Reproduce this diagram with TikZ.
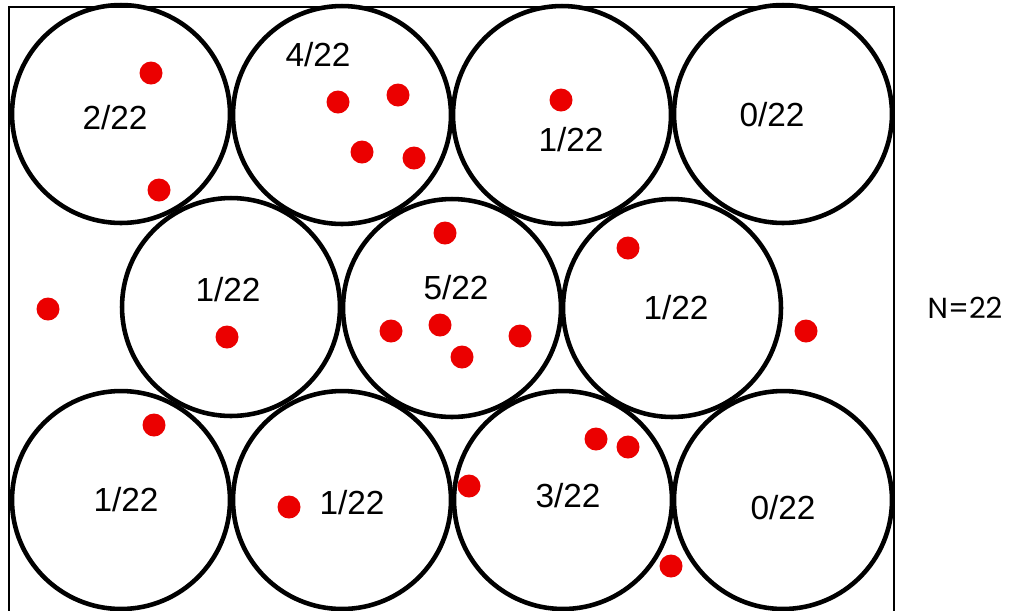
\documentclass[tikz,border=0pt]{standalone}
\usepackage{fontspec}
\setmainfont{Liberation Sans}
\newfontfamily\tallyfont{Poppins}
\definecolor{dotred}{RGB}{235,0,0}
\tikzset{
    cell/.style={draw=black, circle, line width=2.6pt, minimum size=4.36cm, inner sep=0pt},
    share/.style={font=\fontsize{19}{22}\selectfont, inner sep=0pt},
    hit/.style={fill=dotred, draw=none},
}
\begin{document}
\begin{tikzpicture}[x=0.02cm, y=-0.02cm]
    \useasboundingbox (0, 0) rectangle (1010, 610);
    \fill[white] (0, 0) rectangle (1010, 610);

    % the window (its lower edge lies below the picture)
    \draw[line width=1.1pt] (9, 612) -- (9, 7) -- (894, 7) -- (894, 612);

    % top row
    \node[cell] (a1) at (121, 114) {};
    \node[cell] (a2) at (342, 115) {};
    \node[cell] (a3) at (562, 115) {};
    \node[cell] (a4) at (783, 114) {};
    % middle row
    \node[cell] (b1) at (231, 307) {};
    \node[cell] (b2) at (452, 308) {};
    \node[cell] (b3) at (672, 308) {};
    % bottom row
    \node[cell] (c1) at (121, 500) {};
    \node[cell] (c2) at (342, 500) {};
    \node[cell] (c3) at (563, 500) {};
    \node[cell] (c4) at (783, 500) {};

    % fractions
    \node[share] (fa1) at (115, 118) {2/22};
    \node[share] (fa2) at (318, 55) {4/22};
    \node[share] (fa3) at (571, 140) {1/22};
    \node[share] (fa4) at (772, 115) {0/22};
    \node[share] (fb1) at (228, 290) {1/22};
    \node[share] (fb2) at (456, 288) {5/22};
    \node[share] (fb3) at (676, 308) {1/22};
    \node[share] (fc1) at (126, 500) {1/22};
    \node[share] (fc2) at (352, 503) {1/22};
    \node[share] (fc3) at (568, 496) {3/22};
    \node[share] (fc4) at (783, 508) {0/22};

    \node[font=\tallyfont\fontsize{16.5}{19}\selectfont, inner sep=0pt] (total) at (965, 308) {N=22};

    % sample points
    \fill[hit] (151, 73) circle (11.5);
    \fill[hit] (159, 190) circle (11.5);
    \fill[hit] (338, 102) circle (11.5);
    \fill[hit] (398, 95) circle (11.5);
    \fill[hit] (362, 152) circle (11.5);
    \fill[hit] (414, 158) circle (11.5);
    \fill[hit] (561, 100) circle (11.5);
    \fill[hit] (445, 233) circle (11.5);
    \fill[hit] (628, 248) circle (11.5);
    \fill[hit] (48, 309) circle (11.5);
    \fill[hit] (227, 337) circle (11.5);
    \fill[hit] (391, 331) circle (11.5);
    \fill[hit] (440, 325) circle (11.5);
    \fill[hit] (520, 336) circle (11.5);
    \fill[hit] (462, 357) circle (11.5);
    \fill[hit] (806, 331) circle (11.5);
    \fill[hit] (154, 425) circle (11.5);
    \fill[hit] (596, 439) circle (11.5);
    \fill[hit] (628, 447) circle (11.5);
    \fill[hit] (289, 507) circle (11.5);
    \fill[hit] (469, 486) circle (11.5);
    \fill[hit] (671, 566) circle (11.5);
\end{tikzpicture}
\end{document}
